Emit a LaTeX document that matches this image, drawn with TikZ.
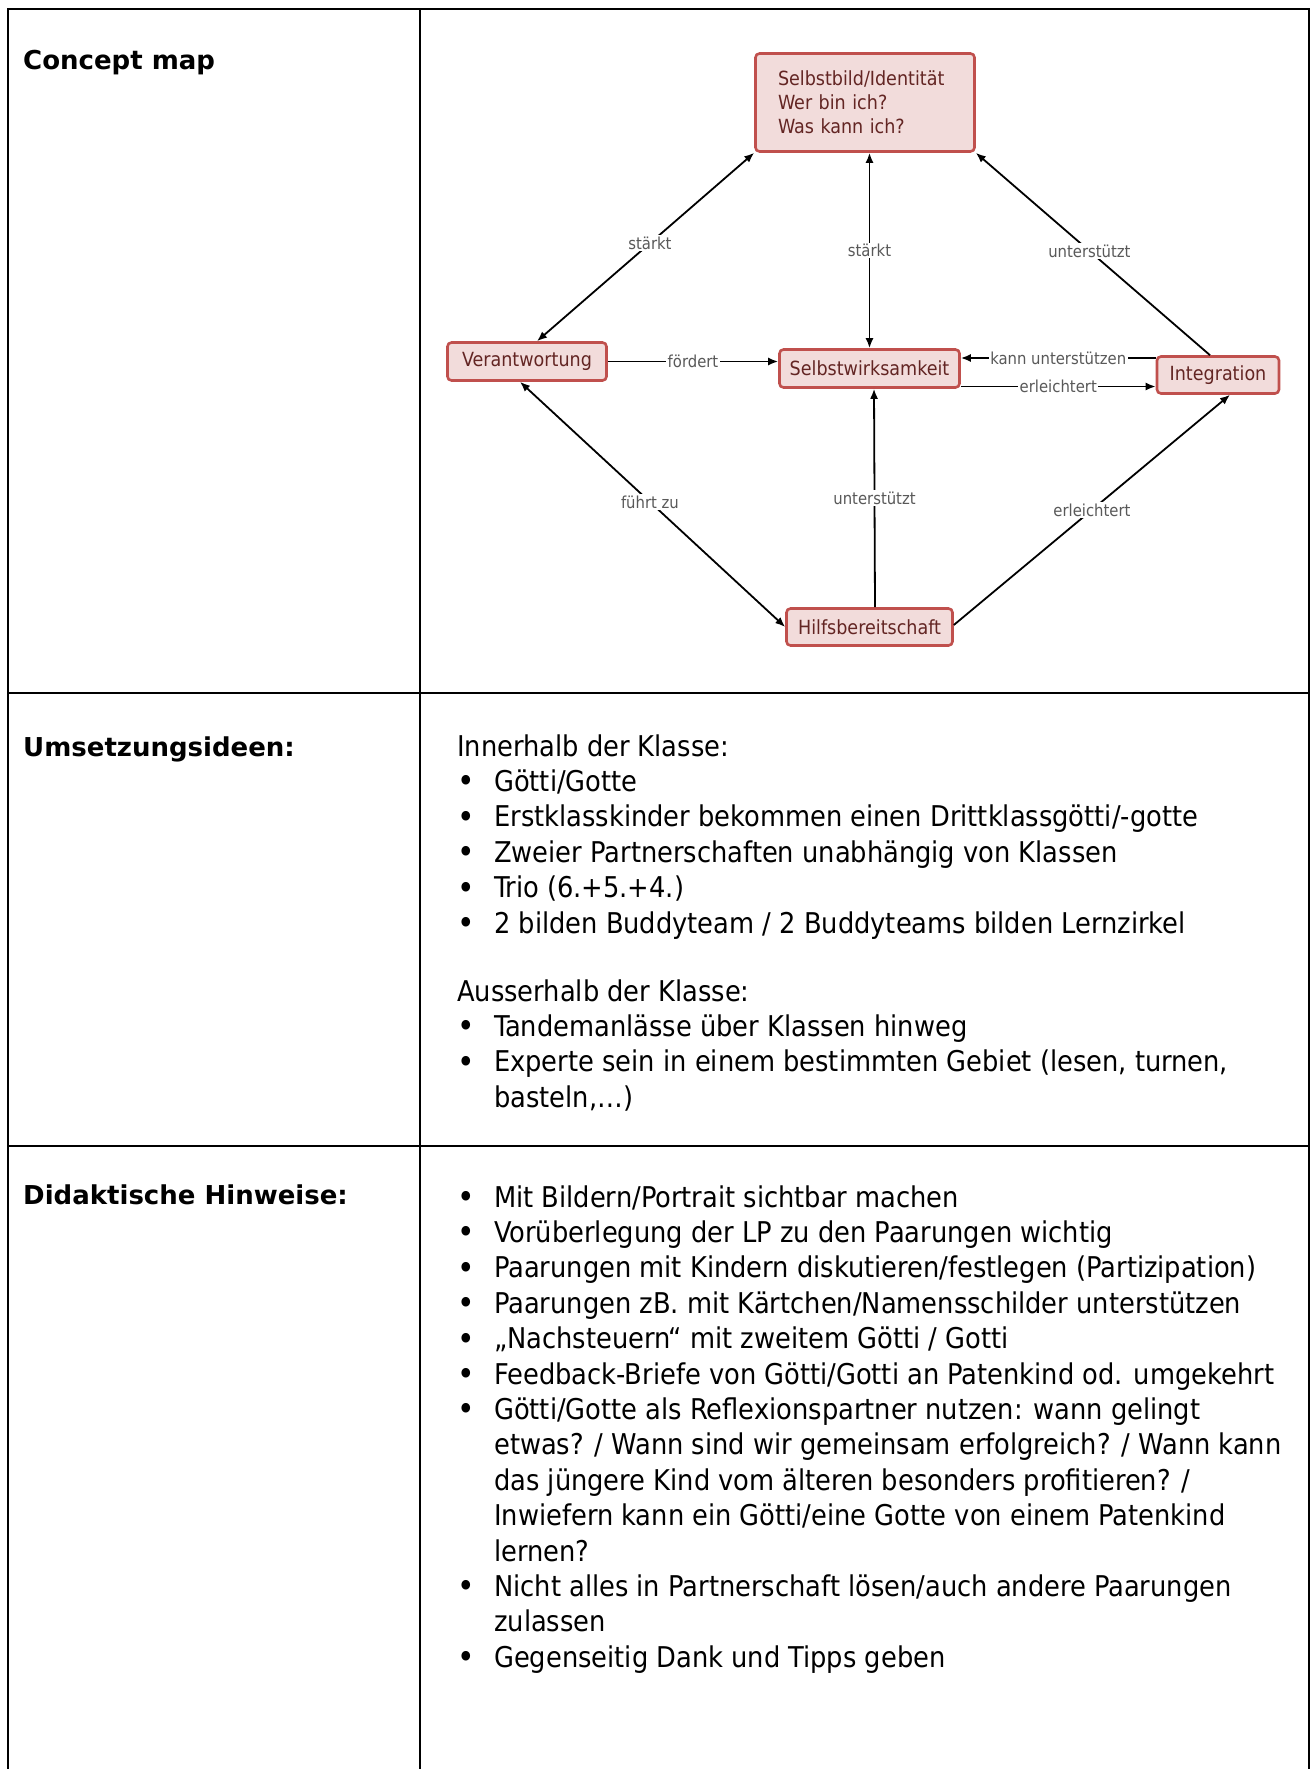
\documentclass[tikz,border=0pt]{standalone}
\usepackage{fontspec}
\setmainfont{DejaVu Sans}
\newfontfamily\condf{DejaVu Sans Condensed}
\usetikzlibrary{arrows.meta,calc}
\definecolor{nodefill}{HTML}{F2DCDB}
\definecolor{nodedraw}{HTML}{C0504D}
\definecolor{nodetext}{HTML}{632523}
\definecolor{labtext}{HTML}{595959}
\newcommand\bul{\makebox[37pt][l]{\raisebox{-1.5pt}{\fontsize{33}{0}\selectfont•}}}
\begin{document}
\begin{tikzpicture}[x=1pt,y=-1pt,
  cnode/.style={draw=nodedraw, fill=nodefill, line width=2.6pt, rounded corners=4pt,
    text=nodetext, font=\condf\fontsize{19.5}{24}\selectfont, inner sep=0pt},
  lab/.style={fill=white, text=labtext, font=\condf\fontsize{16.5}{20}\selectfont, inner sep=1.5pt},
  conn/.style={line width=1.8pt, draw=black},
  both/.style={conn, {Latex[length=10pt,width=8pt]}-{Latex[length=10pt,width=8pt]}},
  one/.style={conn, -{Latex[length=10pt,width=8pt]}},
  body/.style={anchor=base west, inner sep=0pt, yshift=-2pt, font=\condf\fontsize{28.6}{35.4}\selectfont},
  hdr/.style={anchor=base west, inner sep=0pt, font=\bfseries\fontsize{26}{30}\selectfont},
  rule/.style={line width=2.5pt, draw=black}]
\useasboundingbox (0,0) rectangle (1312,1769);

% table
\draw[rule] (8,1769) -- (8,9) -- (1309,9) -- (1309,1769);
\draw[rule] (420,9) -- (420,1769);
\draw[rule] (8,693) -- (1309,693);
\draw[rule] (8,1146) -- (1309,1146);

% headers
\node[hdr] (h1) at (23,70) {Concept map};
\node[hdr] (h2) at (23,756) {Umsetzungsideen:};
\node[hdr] (h3) at (23,1204) {Didaktische Hinweise:};

% concept map nodes
\node[cnode, minimum width=219pt, minimum height=98pt, text width=174pt, align=left] (S) at (865,102.5)
  {Selbstbild/Identität\\Wer bin ich?\\Was kann ich?};
\node[cnode, minimum width=159pt, minimum height=38pt] (V) at (527,361.5) {Verantwortung};
\node[cnode, minimum width=180pt, minimum height=38pt] (W) at (869.5,368.5) {Selbstwirksamkeit};
\node[cnode, minimum width=122pt, minimum height=37pt] (I) at (1218,375) {Integration};
\node[cnode, minimum width=166pt, minimum height=37pt] (H) at (869.5,627) {Hilfsbereitschaft};

% connectors
\draw[both] (S.south west) -- ([xshift=10pt]V.north) node[lab, pos=0.48] (l1) {stärkt};
\draw[both] (W.north |- S.south) -- (W.north) node[lab, pos=0.5] (l2) {stärkt};
\draw[one] ([xshift=-8pt]I.north) -- (S.south east) node[lab, pos=0.515] (l3) {unterstützt};
\draw[one] (V.east) -- (W.west |- V.east) node[lab, pos=0.5] (l4) {fördert};
\coordinate (k1) at ([yshift=17pt]I.west);
\draw[one] (k1) -- (W.east |- k1) node[lab, pos=0.5] (l5) {kann unterstützen};
\coordinate (e1) at ([yshift=-18pt]W.east);
\draw[one] (e1) -- (I.west |- e1) node[lab, pos=0.5] (l6) {erleichtert};
\draw[both] ([xshift=-7pt]V.south) -- (H.west) node[lab, pos=0.49] (l7) {führt zu};
\draw[one] ([xshift=5.5pt]H.north) -- ([xshift=4.5pt]W.south) node[lab, pos=0.5] (l8) {unterstützt};
\draw[one] ([yshift=2pt]H.east) -- ([xshift=12pt]I.south) node[lab, pos=0.5] (l9) {erleichtert};

% Umsetzungsideen
\node[body] (u0) at (457,754) {Innerhalb der Klasse:};
\node[body] (u1) at (457,789.4) {\bul Götti/Gotte};
\node[body] (u2) at (457,824.8) {\bul Erstklasskinder bekommen einen Drittklassgötti/-gotte};
\node[body] (u3) at (457,860.2) {\bul Zweier Partnerschaften unabhängig von Klassen};
\node[body] (u4) at (457,895.6) {\bul Trio (6.+5.+4.)};
\node[body] (u5) at (457,931) {\bul 2 bilden Buddyteam / 2 Buddyteams bilden Lernzirkel};
\node[body] (u6) at (457,999) {Ausserhalb der Klasse:};
\node[body] (u7) at (457,1034.4) {\bul Tandemanlässe über Klassen hinweg};
\node[body] (u8) at (457,1069.8) {\bul Experte sein in einem bestimmten Gebiet (lesen, turnen,};
\node[body] (u9) at (494,1105.2) {basteln,…)};

% Didaktische Hinweise
\node[body] (d1) at (457,1205) {\bul Mit Bildern/Portrait sichtbar machen};
\node[body] (d2) at (457,1240.4) {\bul Vorüberlegung der LP zu den Paarungen wichtig};
\node[body] (d3) at (457,1275.8) {\bul Paarungen mit Kindern diskutieren/festlegen (Partizipation)};
\node[body] (d4) at (457,1311.2) {\bul Paarungen zB. mit Kärtchen/Namensschilder unterstützen};
\node[body] (d5) at (457,1346.6) {\bul „Nachsteuern“ mit zweitem Götti / Gotti};
\node[body] (d6) at (457,1382) {\bul Feedback-Briefe von Götti/Gotti an Patenkind od. umgekehrt};
\node[body] (d7) at (457,1417.4) {\bul Götti/Gotte als Reflexionspartner nutzen: wann gelingt};
\node[body] (d8) at (494,1452.8) {etwas? / Wann sind wir gemeinsam erfolgreich? / Wann kann};
\node[body] (d9) at (494,1488.2) {das jüngere Kind vom älteren besonders profitieren? /};
\node[body] (d10) at (494,1523.6) {Inwiefern kann ein Götti/eine Gotte von einem Patenkind};
\node[body] (d11) at (494,1559) {lernen?};
\node[body] (d12) at (457,1594.4) {\bul Nicht alles in Partnerschaft lösen/auch andere Paarungen};
\node[body] (d13) at (494,1629.8) {zulassen};
\node[body] (d14) at (457,1665.2) {\bul Gegenseitig Dank und Tipps geben};
\end{tikzpicture}
\end{document}
